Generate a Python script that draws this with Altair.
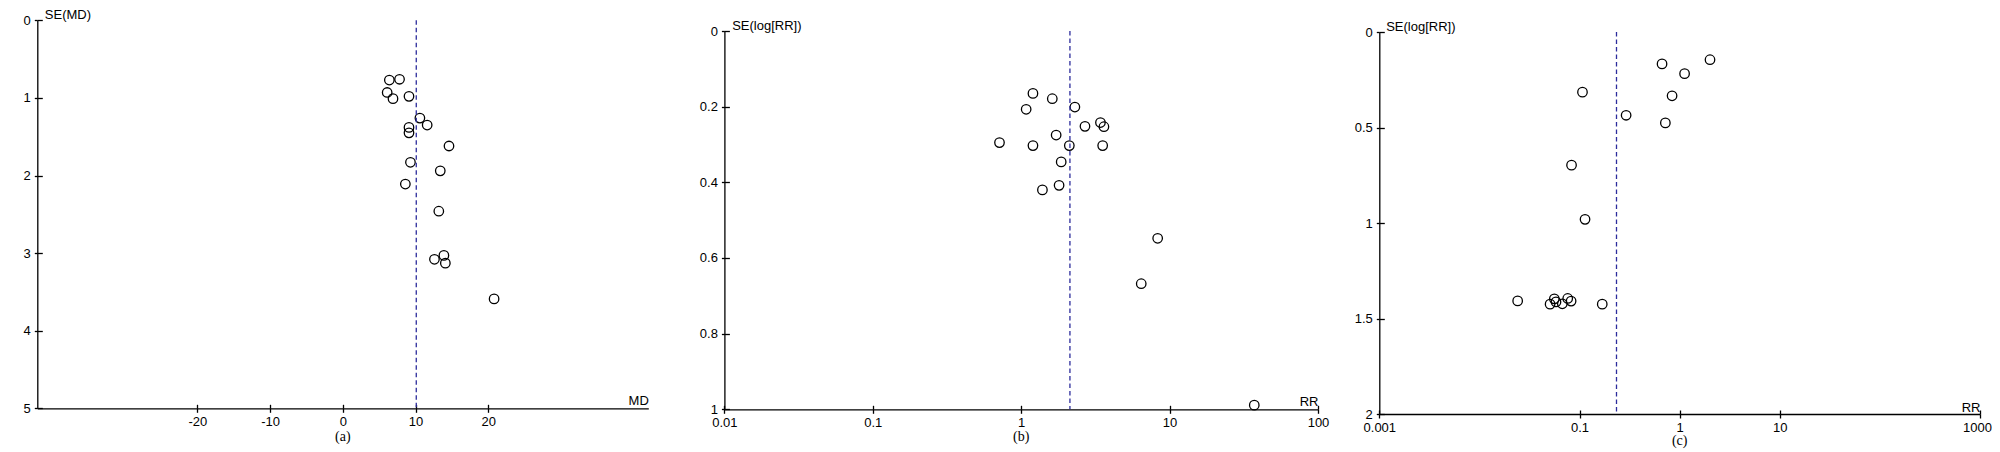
import altair as alt
import pandas as pd

# ---------------- data ----------------
# Panel (a): mean difference funnel plot
a_md = [6.4, 7.8, 6.1, 6.9, 9.1, 10.6, 11.6, 9.1, 9.1, 14.6, 9.3, 13.4, 8.6, 13.2, 13.9, 12.6, 14.1, 20.8]
a_se = [0.77, 0.76, 0.93, 1.01, 0.98, 1.26, 1.35, 1.38, 1.45, 1.62, 1.83, 1.94, 2.11, 2.46, 3.03, 3.08, 3.13, 3.59]
a_pooled = 10.1

# Panel (b): risk ratio funnel plot
b_rr = [1.20, 1.62, 1.08, 2.30, 3.42, 2.69, 3.61, 1.72, 0.714, 1.20, 2.11, 3.54, 1.86, 1.80, 1.39, 8.31, 6.44, 37.2]
b_se = [0.165, 0.179, 0.207, 0.201, 0.242, 0.252, 0.253, 0.275, 0.295, 0.303, 0.303, 0.303, 0.346, 0.408, 0.420, 0.548, 0.668, 0.989]
b_pooled = 2.13

# Panel (c): risk ratio funnel plot
c_rr = [2.01, 0.667, 1.12, 0.107, 0.84, 0.292, 0.72, 0.0832, 0.1135, 0.0241, 0.0508, 0.056, 0.0582, 0.0673, 0.0762, 0.0824, 0.1686]
c_se = [0.145, 0.167, 0.218, 0.315, 0.334, 0.436, 0.476, 0.697, 0.981, 1.408, 1.425, 1.397, 1.413, 1.423, 1.395, 1.409, 1.425]
c_pooled = 0.234

# axis ticks / labels
a_xticks = [-20, -10, 0, 10, 20]
a_yticks = [0, 1, 2, 3, 4, 5]
b_xticks = [0.01, 0.1, 1, 10, 100]
b_yticks = [0, 0.2, 0.4, 0.6, 0.8, 1]
c_xticks = [0.001, 0.1, 1, 10, 1000]
c_yticks = [0, 0.5, 1, 1.5, 2]

# ---------------- layout (pixels inside the chart) ----------------
W, H = 1984, 444
FONT = "Liberation Sans"
DASH_COLOR = "#2c2c9c"


def panel(xs, ys, xtype_log, xdom, xrng, ydom, yrng, xticks, yticks,
          xtitle, ytitle, pooled, caption, cap_x, cap_y,
          xtitle_dy, ytitle_dx, ytitle_y):
    df = pd.DataFrame({"x": xs, "y": ys})
    x_axis_y = yrng[1]
    y_axis_x = xrng[0]
    scale_x = alt.Scale(type="log" if xtype_log else "linear", domain=xdom, range=xrng,
                        nice=False, zero=False)
    scale_y = alt.Scale(type="linear", domain=ydom, range=yrng, nice=False, zero=False)
    common = dict(grid=False, labelFont=FONT, labelFontSize=13, labelColor="black",
                  titleFont=FONT, titleFontSize=13, titleFontWeight="normal",
                  titleColor="black", domainColor="black", tickColor="black",
                  domainWidth=1.3, tickWidth=1.3, labelExpr="'' + datum.value",
                  labelFlush=False, labelOverlap=False)
    pts = alt.Chart(df).mark_point(shape="circle", filled=False, color="black",
                                   size=90, strokeWidth=1.3, opacity=1).encode(
        x=alt.X("x:Q", scale=scale_x, axis=alt.Axis(
            orient="bottom", values=xticks, offset=x_axis_y - H, tickSize=4,
            labelPadding=3, title=xtitle, titleX=xrng[1], titleY=xtitle_dy,
            titleAlign="right", titleBaseline="alphabetic",
            labelOffset={"condition": {"test": "datum.value >= 1000", "value": -3}, "value": 0},
            **common)),
        y=alt.Y("y:Q", scale=scale_y, axis=alt.Axis(
            orient="left", values=yticks, offset=-y_axis_x, tickSize=3,
            labelPadding=4, title=ytitle, titleAngle=0, titleX=ytitle_dx,
            titleY=ytitle_y, titleAlign="left", titleBaseline="middle", **common)),
    )
    rdf = pd.DataFrame({"x": [pooled], "y": [ydom[0]], "y2": [ydom[1]]})
    rule = alt.Chart(rdf).mark_rule(color=DASH_COLOR, strokeDash=[4.5, 3],
                                    strokeWidth=1.3).encode(
        x=alt.X("x:Q", scale=scale_x, axis=alt.Axis(
            orient="top", values=xticks, offset=-x_axis_y, tickSize=4, labels=False,
            domain=False, title="", grid=False, tickColor="black", tickWidth=1.3)),
        y=alt.Y("y:Q", scale=scale_y, axis=alt.Axis(
            orient="right", values=yticks, offset=y_axis_x - W, tickSize=5, labels=False,
            domain=False, title="", grid=False, tickColor="black", tickWidth=1.3)),
        y2="y2:Q",
    )
    cdf = pd.DataFrame({"x": [cap_x], "t": [caption]})
    cap = alt.Chart(cdf).mark_text(font="Liberation Serif", fontSize=14, color="black",
                                   baseline="middle", align="center").encode(
        x=alt.X("x:Q", scale=scale_x, axis=None),
        y=alt.value(cap_y),
        text="t:N",
    )
    return alt.layer(pts, rule, cap).resolve_axis(x="independent", y="independent")


pa = panel(a_md, a_se, False, [-42, 42], [29.3, 640.3], [0, 5], [12.3, 400.3],
           a_xticks, a_yticks, "MD", "SE(MD)", a_pooled, "(a)", 0, 428.5,
           -4, 7, 6)
pb = panel(b_rr, b_se, True, [0.01, 100], [716.4, 1310.0], [0, 1], [23.0, 401.3],
           b_xticks, b_yticks, "RR", "SE(log[RR])", b_pooled, "(b)", 1, 429,
           -3.5, 7.3, 17.7)
pc = panel(c_rr, c_se, True, [0.001, 1000], [1371.3, 1972.0], [0, 2], [24.0, 406.0],
           c_xticks, c_yticks, "RR", "SE(log[RR])", c_pooled, "(c)", 1, 433,
           -2.5, 6.4, 18)

chart = alt.layer(pa, pb, pc).resolve_scale(
    x="independent", y="independent"
).resolve_axis(
    x="independent", y="independent"
).properties(
    width=W, height=H, padding=0,
    autosize=alt.AutoSizeParams(type="none"),
    background="white",
).configure_view(stroke=None)

chart.save("out.html", embed_options={"renderer": "svg", "actions": False})
